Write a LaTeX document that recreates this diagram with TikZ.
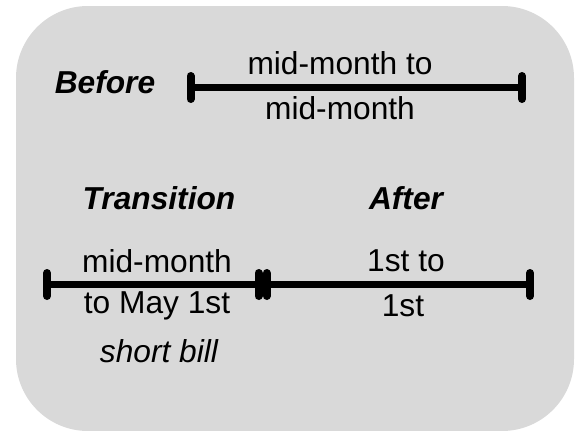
\documentclass[tikz,border=0pt]{standalone}
\usepackage{fontspec}
\setmainfont{Liberation Sans}
\definecolor{panel}{HTML}{D9D9D9}
\begin{document}
\begin{tikzpicture}[x=1pt,y=-1pt,
  lbl/.style={inner sep=0pt,font=\fontsize{31.7}{36}\selectfont},
  head/.style={lbl,font=\fontsize{31.7}{36}\selectfont\bfseries\itshape},
  note/.style={lbl,font=\fontsize{31.7}{36}\selectfont\itshape},
  bar/.style={line width=7.5pt,black},
  tick/.style={line width=8pt,black,line cap=round}]
\useasboundingbox (0,0) rectangle (576,431);
\fill[white] (0,0) rectangle (576,431);
\fill[panel,rounded corners=72pt] (16,6) rectangle (574,431);
\coordinate (b1) at (190.5,87.5); \coordinate (b2) at (522,87.5);
\coordinate (t1) at (47,284.5); \coordinate (t2) at (258.5,284.5);
\coordinate (a1) at (266.5,284.5); \coordinate (a2) at (530,284.5);
\draw[bar] (b1) -- (b2);
\draw[bar] (t1) -- (t2);
\draw[bar] (a1) -- (a2);
\foreach \c in {b1,b2,t1,t2,a1,a2}{
  \draw[tick] ([yshift=-11.5pt]\c) -- ([yshift=11.5pt]\c);
}
\node[head] (before) at (105,82) {Before};
\node[lbl] (m1) at (340,63) {mid-month to};
\node[lbl] (m2) at (340,108) {mid-month};
\node[head] (trans) at (159,198) {Transition};
\node[head] (after) at (406,198) {After};
\node[lbl] (t3) at (157,261) {mid-month};
\node[lbl] (t4) at (157,306) {to May 1st};
\node[note] (t5) at (159,351) {short bill};
\node[lbl] (a3) at (406,261) {1st to};
\node[lbl] (a4) at (403,306) {1st};
\end{tikzpicture}
\end{document}
